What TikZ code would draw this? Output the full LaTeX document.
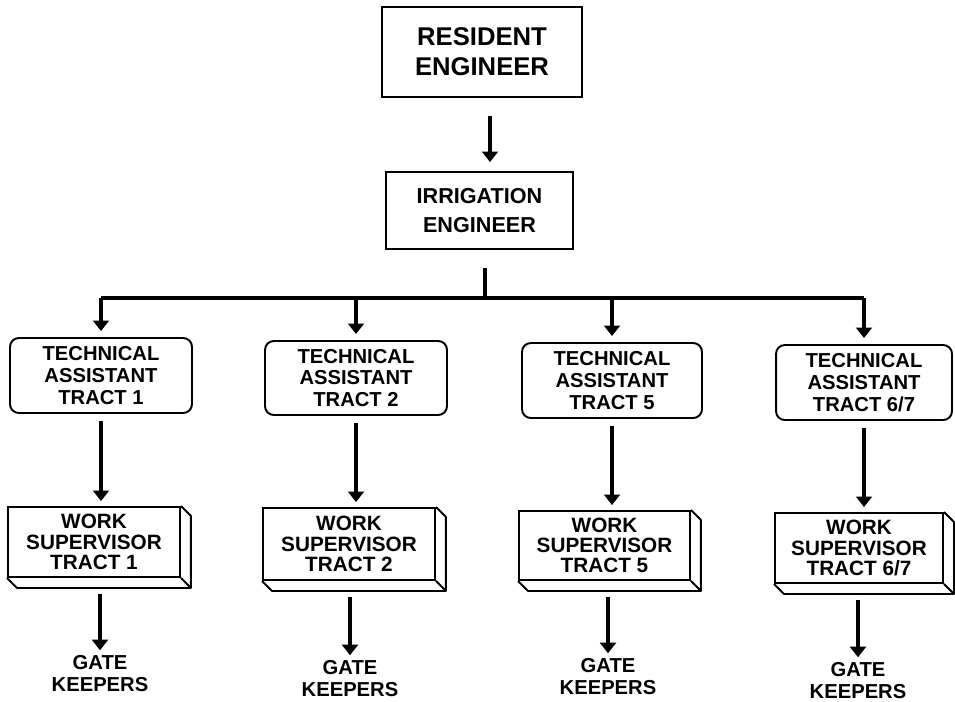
\documentclass[tikz,border=0pt]{standalone}
\usepackage{fontspec}
\setmainfont{Liberation Sans}
\usetikzlibrary{arrows.meta,calc}
\begin{document}
\begin{tikzpicture}[x=0.02cm,y=-0.02cm,
  boxline/.style={line width=1.1pt},
  box/.style={draw,boxline,inner sep=0pt,align=center,
    font=\bfseries\fontsize{11.5}{12.5}\selectfont},
  tabox/.style={box,rounded corners=5pt},
  wsbox/.style={box,font=\bfseries\fontsize{11.8}{11.5}\selectfont},
  gklabel/.style={inner sep=3pt,align=center,
    font=\bfseries\fontsize{11.5}{12.5}\selectfont},
  conn/.style={line width=2pt},
  arr/.style={conn,-{Triangle[length=6pt,width=9pt]}},
]
\useasboundingbox (0,0) rectangle (955,701);

% top boxes
\node[box,minimum width=4cm,minimum height=1.8cm,
  font=\bfseries\fontsize{14.6}{17}\selectfont] (re) at (482,52) {RESIDENT\\ENGINEER};
\node[box,minimum width=3.74cm,minimum height=1.54cm,
  font=\bfseries\fontsize{12.3}{16}\selectfont] (ie) at (479.5,210.5) {IRRIGATION\\ENGINEER};

% technical assistants
\node[tabox,minimum width=3.64cm,minimum height=1.5cm] (ta1) at (101,375.5) {TECHNICAL\\ASSISTANT\\TRACT 1};
\node[tabox,minimum width=3.64cm,minimum height=1.48cm] (ta2) at (356,378) {TECHNICAL\\ASSISTANT\\TRACT 2};
\node[tabox,minimum width=3.6cm,minimum height=1.5cm] (ta5) at (612,380.5) {TECHNICAL\\ASSISTANT\\TRACT 5};
\node[tabox,minimum width=3.52cm,minimum height=1.5cm] (ta67) at (864,382.5) {TECHNICAL\\ASSISTANT\\TRACT 6/7};

% work supervisors (front faces)
\node[wsbox,minimum width=3.44cm,minimum height=1.4cm] (ws1) at (94,542) {WORK\\SUPERVISOR\\TRACT 1};
\node[wsbox,minimum width=3.44cm,minimum height=1.44cm] (ws2) at (349,544) {WORK\\SUPERVISOR\\TRACT 2};
\node[wsbox,minimum width=3.42cm,minimum height=1.38cm] (ws5) at (604.5,545.5) {WORK\\SUPERVISOR\\TRACT 5};
\node[wsbox,minimum width=3.36cm,minimum height=1.4cm] (ws67) at (859,548) {WORK\\SUPERVISOR\\TRACT 6/7};

% 3D depth of the supervisor blocks
\foreach \w in {ws1,ws2,ws5,ws67}{
  \draw[boxline,line join=round] (\w.north east) -- ++(10,10)
     |- ($(\w.south west)+(10,10)$) -- (\w.south west);
  \draw[boxline] (\w.south east) -- ++(10,10);
}

% gate keepers
\node[gklabel] (gk1) at (100,674) {GATE\\KEEPERS};
\node[gklabel] (gk2) at (350,679) {GATE\\KEEPERS};
\node[gklabel] (gk5) at (608,677) {GATE\\KEEPERS};
\node[gklabel] (gk67) at (858,681) {GATE\\KEEPERS};

% connectors
\coordinate (a1) at (490,0);
\draw[arr,shorten <=0.36cm,shorten >=0.18cm] (re.south -| a1) -- (ie.north -| a1);

\coordinate (bus) at (485,298);
\draw[conn] ($(bus |- ie.south)+(0,18)$) -- (bus);
\draw[conn,line join=round] (ta1.north |- bus) -- (ta67.north |- bus);
\foreach \t in {ta1,ta2,ta5,ta67}{
  \draw[arr,shorten >=0.12cm] (\t.north |- bus) -- (\t.north);
}

\draw[arr,shorten <=0.14cm,shorten >=0.1cm] (ta1.south) -- (ws1.north -| ta1.south);
\draw[arr,shorten <=0.14cm,shorten >=0.1cm] (ta2.south) -- (ws2.north -| ta2.south);
\draw[arr,shorten <=0.14cm,shorten >=0.1cm] (ta5.south) -- (ws5.north -| ta5.south);
\draw[arr,shorten <=0.14cm,shorten >=0.1cm] (ta67.south) -- (ws67.north -| ta67.south);

\foreach \w/\g in {ws1/gk1,ws2/gk2,ws5/gk5,ws67/gk67}{
  \draw[arr] ($(\w.south -| \g.north)+(0,16)$) -- (\g.north);
}
\end{tikzpicture}
\end{document}
